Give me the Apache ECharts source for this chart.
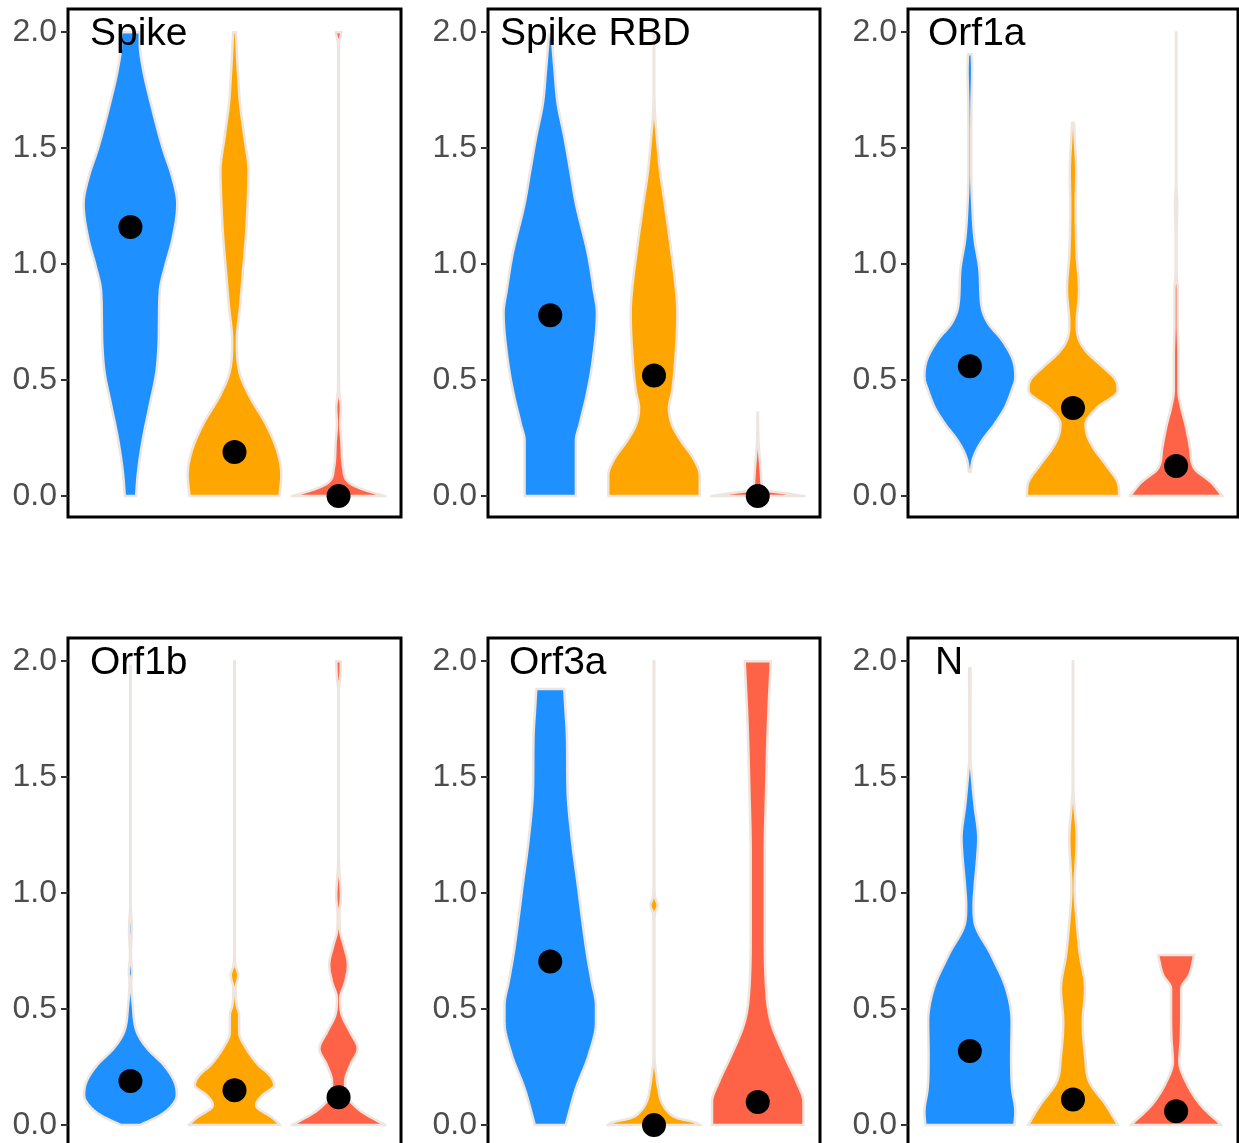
<!DOCTYPE html>
<html><head><meta charset="utf-8">
<script src="https://cdn.jsdelivr.net/npm/echarts@6/dist/echarts.min.js"></script>
<style>html,body{margin:0;padding:0;background:#fff}#c{width:1239px;height:1143px}</style>
</head><body><div id="c"></div>
<script>
// ---- data ----
const panels = ['Spike', 'Spike RBD', 'Orf1a', 'Orf1b', 'Orf3a', 'N'];
const groups = [1, 2, 3];
const groupColors = ['#1E90FF', '#FFA500', '#FF6347'];
const yTicks = [0, 0.5, 1, 1.5, 2];

// medians (black dots) per panel: [blue, orange, red]
const medSpike = [1.16, 0.19, 0.0];
const medSpikeRBD = [0.78, 0.52, 0.0];
const medOrf1a = [0.56, 0.38, 0.13];
const medOrf1b = [0.19, 0.15, 0.12];
const medOrf3a = [0.705, 0.0, 0.10];
const medN = [0.32, 0.11, 0.06];

// violin density profiles: [value, relative half-width]
const spikeBlue = [[0,0.12],[0.1,0.16],[0.24,0.26],[0.4,0.42],[0.53,0.55],[0.65,0.6],[0.75,0.61],[0.89,0.63],[0.99,0.74],[1.11,0.9],[1.26,1.0],[1.37,0.9],[1.5,0.69],[1.69,0.44],[1.84,0.27],[1.95,0.2],[2.0,0.2]];
const spikeOrange = [[0,0.96],[0.09,1.0],[0.19,0.92],[0.31,0.67],[0.43,0.32],[0.53,0.11],[0.67,0.05],[0.82,0.12],[0.965,0.18],[1.11,0.24],[1.26,0.28],[1.4,0.3],[1.55,0.21],[1.69,0.12],[1.84,0.07],[2.0,0.03]];
const spikeRed = [[0,1.0],[0.03,0.5],[0.06,0.21],[0.12,0.1],[0.24,0.06],[0.31,0.035],[0.38,0.05],[0.45,0.015],[0.6,0.006],[1.94,0.006],[2.0,0.06]];

const rbdBlue = [[0,0.55],[0.24,0.55],[0.31,0.63],[0.455,0.8],[0.6,0.92],[0.79,1.0],[0.89,0.93],[1.04,0.81],[1.26,0.55],[1.4,0.43],[1.55,0.3],[1.69,0.16],[1.84,0.09],[1.99,0.03]];
const rbdOrange = [[0,0.98],[0.09,0.98],[0.16,0.85],[0.24,0.57],[0.31,0.38],[0.38,0.32],[0.455,0.39],[0.6,0.46],[0.79,0.5],[0.89,0.47],[1.04,0.38],[1.26,0.23],[1.4,0.13],[1.55,0.06],[1.65,0.02],[1.75,0.006],[2.0,0.006]];
const rbdRed = [[0,1.0],[0.012,0.6],[0.025,0.15],[0.06,0.08],[0.12,0.06],[0.18,0.035],[0.24,0.015],[0.36,0.004]];

const orf1aBlue = [[0.105,0.02],[0.163,0.07],[0.236,0.25],[0.31,0.53],[0.38,0.75],[0.455,0.9],[0.513,0.98],[0.586,0.93],[0.673,0.69],[0.746,0.39],[0.82,0.25],[0.965,0.21],[1.11,0.1],[1.26,0.05],[1.4,0.03],[1.55,0.03],[1.69,0.035],[1.84,0.05],[1.905,0.04]];
const orf1aOrange = [[0,1.0],[0.06,0.96],[0.134,0.71],[0.207,0.44],[0.265,0.3],[0.31,0.27],[0.38,0.51],[0.455,0.96],[0.5,0.92],[0.557,0.64],[0.62,0.3],[0.673,0.13],[0.746,0.08],[0.89,0.13],[1.04,0.08],[1.26,0.06],[1.4,0.07],[1.55,0.035],[1.61,0.02]];
const orf1aRed = [[0,1.0],[0.06,0.75],[0.12,0.39],[0.207,0.3],[0.31,0.2],[0.38,0.11],[0.455,0.05],[0.6,0.05],[0.746,0.035],[0.89,0.035],[0.965,0.01],[1.11,0.01],[1.26,0.025],[1.35,0.005],[2.0,0.005]];

const orf1bBlue = [[0,0.2],[0.043,0.64],[0.086,0.89],[0.13,0.99],[0.187,0.94],[0.259,0.71],[0.33,0.36],[0.4,0.14],[0.517,0.05],[0.618,0.02],[0.66,0.035],[0.73,0.01],[0.85,0.03],[0.95,0.005],[1.98,0.005]];
const orf1bOrange = [[0,0.98],[0.03,0.82],[0.086,0.46],[0.13,0.6],[0.172,0.85],[0.215,0.75],[0.259,0.51],[0.33,0.25],[0.4,0.1],[0.474,0.1],[0.517,0.045],[0.589,0.025],[0.647,0.08],[0.69,0.02],[0.75,0.005],[2.0,0.005]];
const orf1bRed = [[0,1.0],[0.057,0.5],[0.115,0.21],[0.187,0.14],[0.259,0.25],[0.33,0.41],[0.4,0.25],[0.474,0.07],[0.546,0.035],[0.618,0.14],[0.69,0.2],[0.776,0.11],[0.833,0.035],[0.905,0.02],[0.991,0.05],[1.05,0.035],[1.1,0.015],[1.16,0.005],[1.87,0.005],[1.93,0.035],[2.0,0.05]];

const orf3aBlue = [[0,0.33],[0.158,0.55],[0.3,0.82],[0.445,0.98],[0.517,0.98],[0.618,0.89],[0.733,0.79],[0.876,0.69],[1.02,0.6],[1.236,0.46],[1.45,0.37],[1.66,0.36],[1.81,0.32],[1.88,0.3]];
const orf3aOrange = [[0,1.0],[0.014,0.85],[0.03,0.5],[0.057,0.3],[0.1,0.16],[0.158,0.09],[0.23,0.04],[0.3,0.01],[0.88,0.01],[0.92,0.03],[0.948,0.08],[0.977,0.03],[1.02,0.008],[2.0,0.006]];
const orf3aRed = [[0,0.98],[0.1,0.98],[0.187,0.83],[0.3,0.57],[0.445,0.28],[0.589,0.18],[0.876,0.15],[1.16,0.15],[1.45,0.18],[1.74,0.22],[2.0,0.28]];

const nBlue = [[0,0.96],[0.057,0.98],[0.158,0.91],[0.3,0.89],[0.445,0.9],[0.589,0.78],[0.733,0.46],[0.876,0.1],[0.948,0.08],[1.02,0.1],[1.16,0.16],[1.236,0.18],[1.38,0.1],[1.52,0.035],[1.59,0.01],[1.97,0.015]];
const nOrange = [[0,0.97],[0.086,0.71],[0.187,0.35],[0.3,0.26],[0.445,0.21],[0.589,0.26],[0.733,0.15],[0.876,0.08],[1.02,0.035],[1.236,0.08],[1.38,0.03],[1.45,0.008],[2.0,0.005]];
const nRed = [[0,0.98],[0.086,0.53],[0.187,0.21],[0.273,0.07],[0.374,0.1],[0.474,0.11],[0.589,0.11],[0.647,0.28],[0.733,0.39]];

const violins = [
  [spikeBlue, spikeOrange, spikeRed],
  [rbdBlue, rbdOrange, rbdRed],
  [orf1aBlue, orf1aOrange, orf1aRed],
  [orf1bBlue, orf1bOrange, orf1bRed],
  [orf3aBlue, orf3aOrange, orf3aRed],
  [nBlue, nOrange, nRed]
];
const medians = [medSpike, medSpikeRBD, medOrf1a, medOrf1b, medOrf3a, medN];

// ---- layout ----
const gridLefts = [68, 488, 908];
const gridWidths = [333, 332, 330];
const gridTops = [9, 638];
const gridHeight = 508;
const titlePos = [[90, 34], [500, 34], [928, 34], [90, 663], [509, 663], [935, 663]];
const FONT = "'Liberation Sans', Arial, sans-serif";

// monotone cubic smoothing of a profile (rendering only)
function smoothProfile(pts) {
  const n = pts.length;
  if (n < 3) return pts.map(p => [p[0], Math.max(0.004, p[1])]);
  const ys = pts.map(p => p[0]), ws = pts.map(p => p[1]);
  const d = [], m = new Array(n);
  for (let i = 0; i < n - 1; i++) d.push((ws[i + 1] - ws[i]) / (ys[i + 1] - ys[i]));
  m[0] = d[0]; m[n - 1] = d[n - 2];
  for (let i = 1; i < n - 1; i++) m[i] = (d[i - 1] * d[i] <= 0) ? 0 : (d[i - 1] + d[i]) / 2;
  for (let i = 0; i < n - 1; i++) {
    if (d[i] === 0) { m[i] = 0; m[i + 1] = 0; continue; }
    const a = m[i] / d[i], b = m[i + 1] / d[i], s = a * a + b * b;
    if (s > 9) { const t = 3 / Math.sqrt(s); m[i] = t * a * d[i]; m[i + 1] = t * b * d[i]; }
  }
  const out = [];
  for (let i = 0; i < n - 1; i++) {
    const h = ys[i + 1] - ys[i];
    const steps = Math.max(3, Math.ceil(h / 0.008));
    for (let k = 0; k < steps; k++) {
      const t = k / steps, t2 = t * t, t3 = t2 * t;
      const w = (2 * t3 - 3 * t2 + 1) * ws[i] + (t3 - 2 * t2 + t) * h * m[i] + (-2 * t3 + 3 * t2) * ws[i + 1] + (t3 - t2) * h * m[i + 1];
      out.push([ys[i] + t * h, Math.max(0.004, w)]);
    }
  }
  out.push([ys[n - 1], Math.max(0.004, ws[n - 1])]);
  return out;
}

const grids = [], xAxes = [], yAxes = [], series = [], graphics = [];
panels.forEach((name, p) => {
  const col = p % 3, row = Math.floor(p / 3);
  grids.push({ left: gridLefts[col], top: gridTops[row], width: gridWidths[col], height: gridHeight,
    outerBoundsMode: 'none', containLabel: false,
    show: true, borderColor: '#000', borderWidth: 3, backgroundColor: 'transparent' });
  xAxes.push({ gridIndex: p, type: 'value', min: 0.4, max: 3.6, show: false });
  yAxes.push({ gridIndex: p, type: 'value', min: -0.09, max: 2.1,
    axisLine: { show: false }, splitLine: { show: false },
    axisTick: { show: true, length: 7, customValues: yTicks, lineStyle: { color: '#333', width: 2 } },
    axisLabel: { customValues: yTicks, formatter: v => Number(v).toFixed(1), fontSize: 32, color: '#4D4D4D', margin: 11, fontFamily: FONT }
  });
  series.push({
    type: 'custom', xAxisIndex: p, yAxisIndex: p, clip: false, z: 2,
    data: groups.map((g, i) => [g, i]),
    renderItem: (params, api) => {
      const gi = api.value(1);
      const cx = api.value(0);
      const sm = smoothProfile(violins[p][gi]);
      const left = sm.map(([y, w]) => api.coord([cx - w * 0.45, y]));
      const right = sm.slice().reverse().map(([y, w]) => api.coord([cx + w * 0.45, y]));
      return { type: 'polygon', shape: { points: left.concat(right) },
        style: { fill: groupColors[gi], stroke: '#EEE5DE', lineWidth: 2.5, lineJoin: 'round' } };
    }
  });
  series.push({
    type: 'scatter', xAxisIndex: p, yAxisIndex: p, clip: false, z: 5,
    symbolSize: 24, itemStyle: { color: '#000', opacity: 1 },
    data: groups.map((g, i) => [g, medians[p][i]])
  });
  graphics.push({ type: 'text', x: titlePos[p][0], y: titlePos[p][1], z: 100,
    style: { text: name, fontSize: 39, fontFamily: FONT, fill: '#000', textVerticalAlign: 'middle', verticalAlign: 'middle', textAlign: 'left', align: 'left' } });
});

const chart = echarts.init(document.getElementById('c'), null, { renderer: 'canvas' });
chart.setOption({
  animation: false,
  backgroundColor: '#fff',
  grid: grids, xAxis: xAxes, yAxis: yAxes, series: series, graphic: graphics
});
</script></body></html>
